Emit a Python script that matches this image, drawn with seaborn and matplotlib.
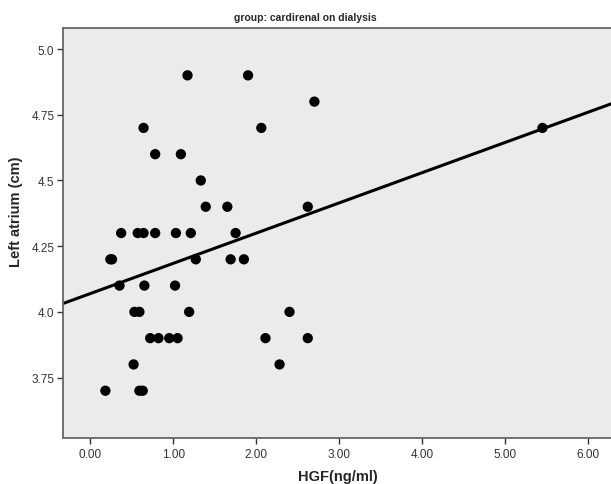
import matplotlib
matplotlib.use("Agg")
import matplotlib.pyplot as plt
import seaborn as sns
import pandas as pd
from matplotlib.ticker import FixedLocator, FixedFormatter

# ---- data ----
hgf = [1.17, 1.90, 2.70, 0.64, 2.06, 5.45, 0.78, 1.09, 1.33, 1.39, 1.65, 2.62,
       0.37, 0.57, 0.64, 0.78, 1.03, 1.21, 1.75, 0.24, 0.26, 1.27, 1.69, 1.85,
       0.35, 0.65, 1.02, 0.53, 0.59, 1.19, 2.40, 0.72, 0.82, 0.95, 1.05, 2.11,
       2.62, 0.52, 2.28, 0.18, 0.59, 0.63]
left_atrium = [4.9, 4.9, 4.8, 4.7, 4.7, 4.7, 4.6, 4.6, 4.5, 4.4, 4.4, 4.4,
               4.3, 4.3, 4.3, 4.3, 4.3, 4.3, 4.3, 4.2, 4.2, 4.2, 4.2, 4.2,
               4.1, 4.1, 4.1, 4.0, 4.0, 4.0, 4.0, 3.9, 3.9, 3.9, 3.9, 3.9,
               3.9, 3.8, 3.8, 3.7, 3.7, 3.7]

x_ticks = [0, 1, 2, 3, 4, 5, 6]
x_tick_labels = ["0.00", "1.00", "2.00", "3.00", "4.00", "5.00", "6.00"]
y_ticks = [3.75, 4.0, 4.25, 4.5, 4.75, 5.0]
y_tick_labels = ["3.75", "4.0", "4.25", "4.5", "4.75", "5.0"]

df = pd.DataFrame({"HGF": hgf, "LA": left_atrium})

sns.set_style("white")
plt.rcParams["font.family"] = ["Liberation Sans", "DejaVu Sans"]

fig = plt.figure(figsize=(6.11, 4.85), dpi=100)
ax = fig.add_axes([0.1026, 0.0948, 0.8974 + 0.01, 0.8448])
ax.set_facecolor("#ebebeb")
ax.set_xlim(-0.335, 6.35)
ax.set_ylim(3.52, 5.079)

sns.regplot(data=df, x="HGF", y="LA", ax=ax, ci=None, truncate=False,
            scatter_kws=dict(s=55, color="black", edgecolor="none", alpha=1),
            line_kws=dict(color="black", lw=2.2))

ax.set_xlim(-0.335, 6.35)
ax.set_ylim(3.52, 5.079)

ax.xaxis.set_major_locator(FixedLocator(x_ticks))
ax.xaxis.set_major_formatter(FixedFormatter(x_tick_labels))
ax.yaxis.set_major_locator(FixedLocator(y_ticks))
ax.yaxis.set_major_formatter(FixedFormatter(y_tick_labels))

for side in ["left", "bottom", "top"]:
    ax.spines[side].set_visible(True)
    ax.spines[side].set_color("#666666")
    ax.spines[side].set_linewidth(1.3)
ax.spines["right"].set_visible(False)

ax.tick_params(axis="both", which="major", direction="out", length=4,
               width=1.0, color="#333333", labelsize=8.5, labelcolor="#333333",
               left=True, bottom=True, pad=2)
ax.tick_params(axis="x", pad=3)

ax.set_xlabel("HGF(ng/ml)", fontsize=10.5, fontweight="bold")
ax.set_ylabel("Left atrium (cm)", fontsize=10.5, fontweight="bold")
ax.xaxis.set_label_coords(0.497, -0.075)
ax.yaxis.set_label_coords(-0.072, 0.555)
fig.text(0.5, 0.962, "group: cardirenal on dialysis", ha="center", va="center",
         fontsize=7.5, fontweight="bold")

fig.savefig("out.png", dpi=100)
